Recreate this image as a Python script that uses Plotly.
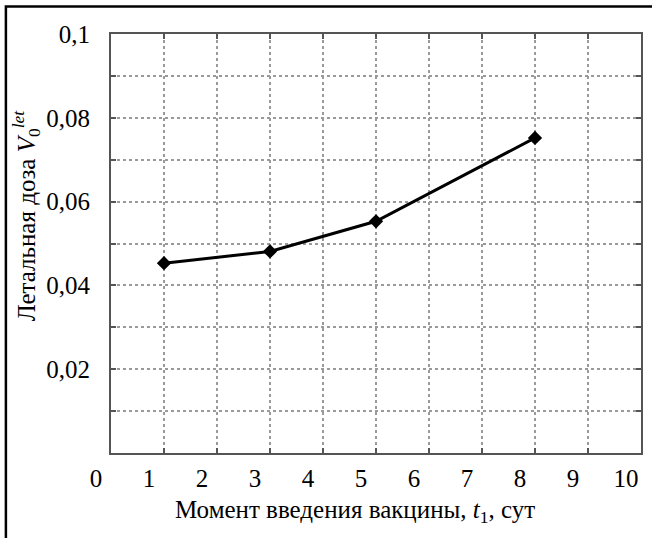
import plotly.graph_objects as go

# Vaccination moment (days) and lethal dose values
t1_days = [1, 3, 5, 8]
lethal_dose = [0.0453, 0.0481, 0.0553, 0.0752]

x_tick_vals = list(range(0, 11))
x_tick_text = [str(v) for v in x_tick_vals]
y_tick_vals = [0.02, 0.04, 0.06, 0.08, 0.1]
y_tick_text = ["0,02", "0,04", "0,06", "0,08", "0,1"]

FONT = "Liberation Serif"
AXIS_COLOR = "#555555"
GRID_COLOR = "#9a9a9a"
TICK_SIZE = 25
TITLE_SIZE = 25

fig = go.Figure()
fig.add_trace(go.Scatter(
    x=t1_days, y=lethal_dose,
    mode="lines+markers",
    line=dict(color="black", width=3),
    marker=dict(symbol="diamond", size=11, color="black"),
    showlegend=False,
))

fig.update_layout(
    width=652, height=538,
    margin=dict(l=111, r=9, t=34, b=85),
    paper_bgcolor="white", plot_bgcolor="white",
    font=dict(family=FONT, size=TICK_SIZE, color="black"),
)

fig.update_xaxes(
    range=[0, 10], tickvals=x_tick_vals, ticktext=x_tick_text,
    showgrid=True, gridcolor=GRID_COLOR, griddash="dot", gridwidth=1.5,
    showline=True, linecolor=AXIS_COLOR, linewidth=2, mirror="allticks",
    ticks="inside", ticklen=5, tickwidth=2, tickcolor=AXIS_COLOR,
    ticklabelshift=-15, ticklabelstandoff=2,
    tickfont=dict(family=FONT, size=TICK_SIZE, color="black"),
    zeroline=False,
)
fig.update_yaxes(
    range=[0, 0.1], tickvals=y_tick_vals, ticktext=y_tick_text,
    showgrid=True, gridcolor=GRID_COLOR, griddash="dot", gridwidth=1.5,
    showline=True, linecolor=AXIS_COLOR, linewidth=2, mirror="allticks",
    ticks="inside", ticklen=5, tickwidth=2, tickcolor=AXIS_COLOR,
    ticklabelstandoff=14,
    tickfont=dict(family=FONT, size=TICK_SIZE, color="black"),
    minor=dict(
        tick0=0, dtick=0.01, ticks="inside", ticklen=5, tickwidth=2,
        tickcolor=AXIS_COLOR, showgrid=True, gridcolor=GRID_COLOR,
        griddash="dot", gridwidth=1.5,
    ),
    zeroline=False,
)

# Axis titles
fig.add_annotation(
    text="Момент введения вакцины, <i>t</i><sub>1</sub>, сут",
    xref="paper", yref="paper", x=(356 - 111) / 532, y=(453 - 512) / 419,
    xanchor="center", yanchor="middle", showarrow=False,
    font=dict(family=FONT, size=TITLE_SIZE, color="black"),
)
fig.add_annotation(
    text="Летальная доза <i>V</i><sub>0</sub><sup><i>let</i></sup>",
    xref="paper", yref="paper", x=(26 - 111) / 532, y=(453 - 215) / 419,
    xanchor="center", yanchor="middle", textangle=-90, showarrow=False,
    font=dict(family=FONT, size=TITLE_SIZE, color="black"),
)

# Outer frame around the figure
fig.add_shape(
    type="rect", xref="paper", yref="paper",
    x0=(5.5 - 111) / 532, x1=1.2, y0=-0.4, y1=(453 - 6.5) / 419,
    line=dict(color="black", width=2.5), layer="above",
)

fig.write_html("out.html")
